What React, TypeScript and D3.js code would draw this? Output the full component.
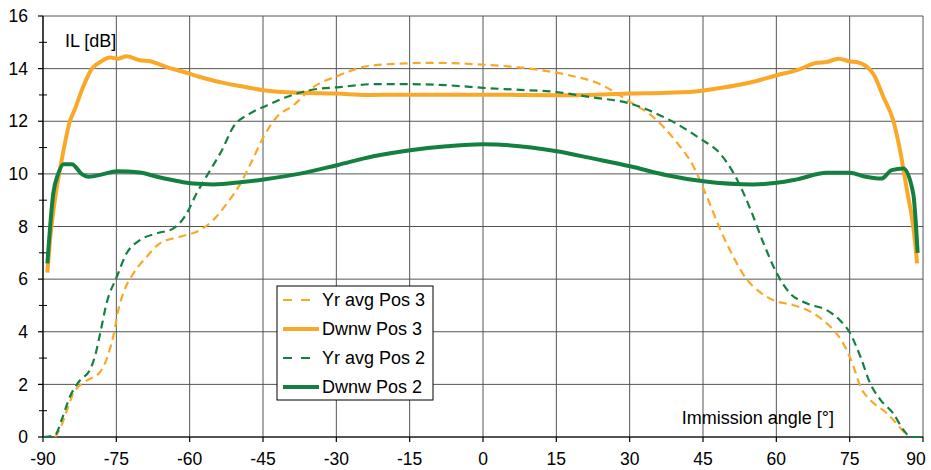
import React from "react";
import * as d3 from "d3";

// ---- data (angle in degrees, IL in dB) ----
const yrAvgPos3Angle = [-87.5,-86.2,-85.2,-83.8,-81.4,-78.3,-77.0,-75.6,-74.5,-73.6,-71.5,-68.8,-66.1,-62.0,-57.9,-55.2,-52.4,-49.7,-47.5,-44.9,-42.2,-38.8,-34.7,-29.9,-23.8,-17,-10.2,0,9.6,18.5,23.3,30.1,34.8,39.6,43.0,45.8,48.5,51.2,53.9,56.7,59.4,63.5,67.6,70.3,72.3,74.4,75.8,77.2,79.2,82.6,86.7];
const yrAvgPos3Value = [0,0.45,0.96,1.66,2.1,2.48,2.95,3.85,4.9,5.46,6.22,6.85,7.36,7.61,7.86,8.24,8.87,9.6,10.4,11.4,12.16,12.6,13.3,13.71,14.09,14.19,14.22,14.15,14.0,13.71,13.46,12.73,12.16,11.2,10.3,9.13,7.9,6.85,6.0,5.5,5.2,5.01,4.7,4.32,3.94,3.3,2.67,1.91,1.41,0.9,0.05];

const dwnwPos3Angle = [-89.1,-88.5,-87.5,-86.2,-84.5,-83.5,-81.8,-80.0,-78.3,-76.3,-74.6,-72.9,-70.2,-68.1,-64.7,-61.3,-57.9,-52.4,-49.7,-44.9,-37.4,-29.9,-23.8,-17,0,15,23.3,30.1,37.6,44.4,48.5,55.3,60.1,64.2,68.3,70.3,72.7,75.1,76.4,79.8,81.9,83.9,85.3,86.7,88.0,88.8];
const dwnwPos3Value = [6.25,7.6,9.1,10.5,12.0,12.45,13.3,14.0,14.25,14.42,14.38,14.47,14.32,14.28,14.06,13.88,13.68,13.43,13.34,13.18,13.08,13.05,13.0,13.01,13.01,12.99,13.01,13.05,13.08,13.15,13.26,13.5,13.75,13.94,14.22,14.25,14.38,14.27,14.25,13.81,12.92,12.04,10.9,9.4,8.0,6.6];

const yrAvgPos2Angle = [-89.9,-87.5,-86.2,-84.5,-82.4,-80.4,-79.4,-78.3,-77.0,-74.9,-72.9,-70.2,-66.7,-63.3,-60.6,-58.6,-55.8,-53.4,-51.1,-47.7,-44.2,-40.2,-35.4,-29.3,-22.4,-15.6,-7.4,0,6.8,15.1,21.9,30.1,37.6,44.4,48.5,51.5,54.6,57.3,60.1,62.8,66.2,70.3,73.0,75.1,77.2,79.2,81.3,83.9,86.0,87.5,89.4];
const yrAvgPos2Value = [0,0.08,0.65,1.53,2.16,2.55,3.05,3.94,5.08,6.09,6.98,7.48,7.74,7.93,8.5,9.25,10.14,10.9,11.78,12.29,12.6,12.92,13.18,13.3,13.41,13.41,13.37,13.27,13.2,13.11,12.92,12.67,12.1,11.34,10.77,9.95,8.7,7.4,6.22,5.46,5.08,4.82,4.44,3.94,3.05,2.04,1.41,0.9,0.27,0,0];

const dwnwPos2Angle = [-89.1,-87.9,-86.9,-85.8,-84.1,-82.1,-80.7,-77.7,-74.9,-70.2,-66.7,-63.3,-59.3,-55.2,-49.7,-44.9,-37.4,-29.9,-22.4,-14.9,-7.4,0,15.1,22.6,30.1,37.6,45.1,55.3,60.1,64.2,70.3,75.1,77.8,81.5,83.6,86.0,88.0,88.9];
const dwnwPos2Value = [6.6,9.25,10.0,10.37,10.37,10.0,9.89,9.99,10.1,10.05,9.89,9.76,9.63,9.6,9.68,9.79,10.01,10.33,10.67,10.9,11.05,11.13,10.86,10.58,10.29,9.95,9.72,9.6,9.66,9.79,10.04,10.04,9.91,9.82,10.14,10.2,9.25,7.0];

const xTicks = [-90,-75,-60,-45,-30,-15,0,15,30,45,60,75,90];
const yTicks = [0,2,4,6,8,10,12,14,16];
const yMinorTicks = [1,3,5,7,9,11,13,15];

const seriesNames = ["Yr avg Pos 3","Dwnw Pos 3","Yr avg Pos 2","Dwnw Pos 2"];

const ORANGE = "#F9A828";
const GREEN = "#138040";

export default function App() {
  const W = 931, H = 470;
  const left = 43, right = 923, top = 16, bottom = 437;
  const x = d3.scaleLinear().domain([-90, 90]).range([left, right]);
  const y = d3.scaleLinear().domain([0, 16]).range([bottom, top]);

  const line = d3.line<[number, number]>()
    .x(d => x(d[0]))
    .y(d => y(d[1]))
    .curve(d3.curveMonotoneX);

  const zip = (a: number[], b: number[]) => a.map((v, i) => [v, b[i]] as [number, number]);

  const series = [
    { name: seriesNames[0], data: zip(yrAvgPos3Angle, yrAvgPos3Value), color: ORANGE, width: 2.2, dash: "8,5" },
    { name: seriesNames[1], data: zip(dwnwPos3Angle, dwnwPos3Value), color: ORANGE, width: 4, dash: undefined },
    { name: seriesNames[2], data: zip(yrAvgPos2Angle, yrAvgPos2Value), color: GREEN, width: 2.2, dash: "8,5" },
    { name: seriesNames[3], data: zip(dwnwPos2Angle, dwnwPos2Value), color: GREEN, width: 4, dash: undefined },
  ];

  const font = "Liberation Sans, Arial, sans-serif";
  const gridColor = "#555";

  const legX = 277, legY = 286, legW = 156, legH = 114;
  const legRowY = [300, 329, 358, 387];

  return (
    <svg width={W} height={H} style={{ position: "absolute", left: 0, top: 0, background: "#fff" }}
      fontFamily={font}>
      <rect x={0} y={0} width={W} height={H} fill="#fff" />
      {yTicks.map(t => (
        <line key={"gy" + t} x1={left} x2={right} y1={y(t)} y2={y(t)} stroke={gridColor} strokeWidth={1} />
      ))}
      {xTicks.map(t => (
        <line key={"gx" + t} x1={x(t)} x2={x(t)} y1={top} y2={bottom} stroke={gridColor} strokeWidth={1} />
      ))}
      <line x1={left} x2={left} y1={top} y2={bottom} stroke="#000" strokeWidth={1.2} />
      <line x1={left} x2={right} y1={bottom} y2={bottom} stroke="#000" strokeWidth={1.2} />
      {yTicks.map(t => (
        <line key={"ty" + t} x1={left - 5} x2={left} y1={y(t)} y2={y(t)} stroke="#000" strokeWidth={1.2} />
      ))}
      {yMinorTicks.map(t => (
        <line key={"tmy" + t} x1={left - 4} x2={left + 4} y1={y(t)} y2={y(t)} stroke="#000" strokeWidth={1} />
      ))}
      {xTicks.map(t => (
        <line key={"tx" + t} x1={x(t)} x2={x(t)} y1={bottom} y2={bottom + 5} stroke="#000" strokeWidth={1.2} />
      ))}
      {yTicks.map(t => (
        <text key={"ly" + t} x={28} y={y(t)} dy="0.35em" textAnchor="end" fontSize={17.5} fill="#000">{t}</text>
      ))}
      {xTicks.map(t => (
        <text key={"lx" + t} x={Math.min(x(t), 916)} y={465} textAnchor="middle" fontSize={17.5} fill="#000">{t}</text>
      ))}
      {series.map(s => (
        <path key={s.name} d={line(s.data) || ""} fill="none" stroke={s.color} strokeWidth={s.width}
          strokeDasharray={s.dash} strokeLinejoin="round" />
      ))}
      <text x={65} y={47} fontSize={18} fill="#000">IL [dB]</text>
      <text x={834} y={424} fontSize={18} textAnchor="end" fill="#000">Immission angle [°]</text>
      <rect x={legX} y={legY} width={legW} height={legH} fill="#fff" stroke="#000" strokeWidth={1} />
      {series.map((s, i) => (
        <g key={"leg" + s.name}>
          <line x1={283} x2={319} y1={legRowY[i]} y2={legRowY[i]} stroke={s.color} strokeWidth={s.width}
            strokeDasharray={s.dash ? "9,9" : undefined} />
          <text x={322} y={legRowY[i]} dy="0.35em" fontSize={18} fill="#000">{s.name}</text>
        </g>
      ))}
    </svg>
  );
}
